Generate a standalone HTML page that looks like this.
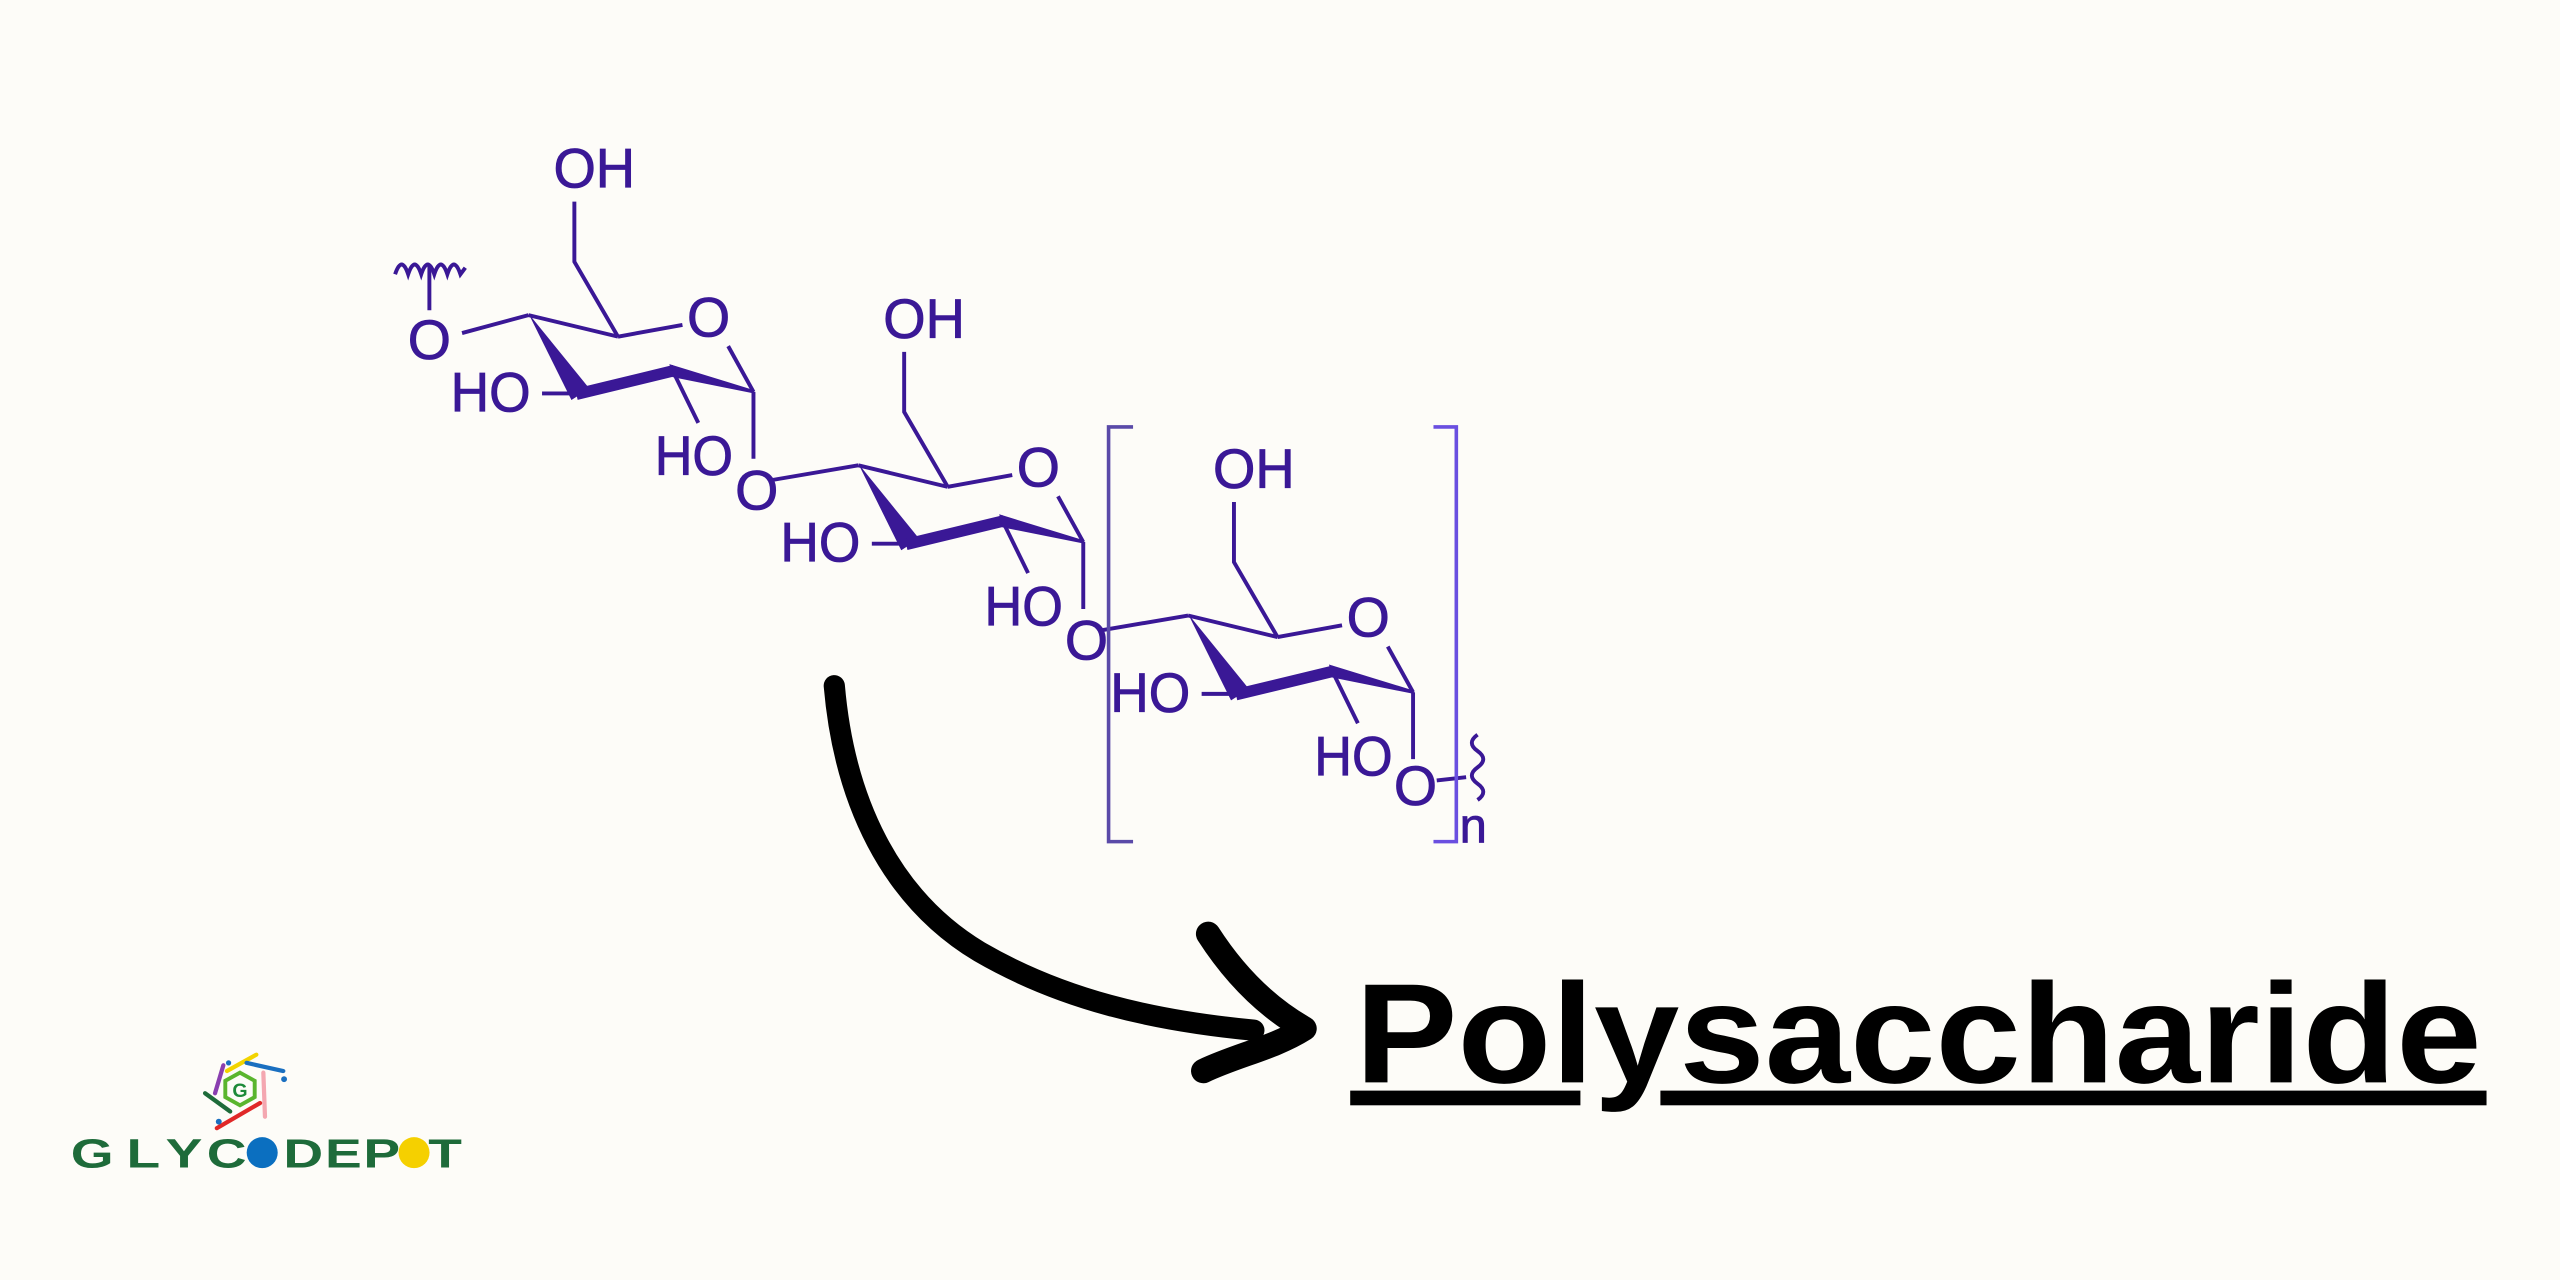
<!DOCTYPE html>
<html><head><meta charset="utf-8"><style>
html,body{margin:0;padding:0;background:#fdfcf8;}
svg{display:block;}
</style></head><body>
<svg width="2560" height="1280" viewBox="0 0 1568 784" xmlns="http://www.w3.org/2000/svg">
<rect width="1568" height="784" fill="#fdfcf8"/>
<defs>
<g id="unit" stroke="#3a1896" fill="none" stroke-width="2.4">
  <text x="339" y="115" textLength="50" lengthAdjust="spacingAndGlyphs" font-family="Liberation Sans, sans-serif" font-size="34" fill="#3a1896" stroke="#3a1896" stroke-width="0.5">OH</text>
  <polyline points="351.8,123.5 351.8,160.3 378.5,206.2"/>
  <line x1="323.7" y1="193" x2="378.5" y2="206.2"/>
  <line x1="378.5" y1="206.2" x2="418" y2="199"/>
  <text x="434" y="206" text-anchor="middle" font-family="Liberation Sans, sans-serif" font-size="34" fill="#3a1896" stroke="#3a1896" stroke-width="0.5">O</text>
  <line x1="461.5" y1="240" x2="446" y2="212"/>
  <polygon points="323.7,192 361,238 350,245" fill="#3a1896" stroke="none"/>
  <line x1="353" y1="241.5" x2="413" y2="227" stroke-width="7"/>
  <polygon points="410,223 462,239 462,241 412,231" fill="#3a1896" stroke="none"/>
  <text x="276" y="252" textLength="49" lengthAdjust="spacingAndGlyphs" font-family="Liberation Sans, sans-serif" font-size="34" fill="#3a1896" stroke="#3a1896" stroke-width="0.5">HO</text>
  <line x1="332" y1="241" x2="352" y2="241"/>
  <line x1="412" y1="227" x2="427.7" y2="259"/>
  <text x="401" y="291" textLength="48" lengthAdjust="spacingAndGlyphs" font-family="Liberation Sans, sans-serif" font-size="34" fill="#3a1896" stroke="#3a1896" stroke-width="0.5">HO</text>
  <line x1="461.5" y1="240" x2="461.5" y2="281"/>
</g>
</defs>
<g font-family="Liberation Sans, sans-serif" font-size="34" fill="#3a1896" stroke="#3a1896" stroke-width="0.5">
<use href="#unit"/>
<use href="#unit" transform="translate(202,92)"/>
<use href="#unit" transform="translate(404,184)"/>
<text x="263" y="220" text-anchor="middle">O</text>
<text x="463.5" y="312" text-anchor="middle">O</text>
<text x="665.5" y="404" text-anchor="middle">O</text>
<text x="867" y="493" text-anchor="middle">O</text>
<text x="894" y="516" font-size="30">n</text>
</g>
<g stroke="#3a1896" stroke-width="2.4" fill="none">
<line x1="283" y1="204" x2="323.7" y2="193"/>
<line x1="263" y1="190" x2="263" y2="162"/>
<path d="M242,168 q4,-12 8,0 q4,-12 8,0 q4,-12 8,0 q4,-12 8,0 q4,-12 8,0 l3,-4"/>
<line x1="473" y1="294" x2="525.7" y2="285"/>
<line x1="675" y1="386" x2="727.7" y2="377"/>
<line x1="880" y1="478" x2="898" y2="476"/>
<path d="M905,450 q-7,5 0,10 q7,5 0,10 q-7,5 0,10 q7,5 0,10"/>
</g>
<polyline points="694,261.5 679,261.5 679,515.5 694,515.5" fill="none" stroke="#5a4aa8" stroke-width="2.2"/>
<polyline points="878,261.5 892,261.5 892,515.5 878,515.5" fill="none" stroke="#6a4fe0" stroke-width="2.2"/>
<!-- arrow -->
<g stroke="#000" fill="none" stroke-linecap="round" stroke-linejoin="round">
<path d="M511,420 C517,490 545,550 600,583 C650,612 705,625 768,631" stroke-width="13"/>
<path d="M740,572 C758,600 778,618 799,630 C780,642 758,646 737,656" stroke-width="15"/>
</g>
<!-- title -->
<text x="830" y="663" font-family="Liberation Sans, sans-serif" font-weight="bold" font-size="87" textLength="690" lengthAdjust="spacingAndGlyphs" fill="#000">Polysaccharide</text>
<rect x="827" y="668" width="141" height="9" fill="#000"/>
<rect x="1017" y="668" width="506" height="9" fill="#000"/>
<!-- logo -->
<g stroke-linecap="round" fill="none" stroke-width="2.6">
<line x1="139" y1="656" x2="157" y2="646" stroke="#f2d400"/>
<line x1="151" y1="651" x2="173.5" y2="656" stroke="#1a6fc0"/>
<line x1="136.8" y1="652.5" x2="131.7" y2="669.6" stroke="#8a3fb0"/>
<line x1="161.3" y1="657" x2="162.3" y2="684" stroke="#f4a7b0"/>
<line x1="159.3" y1="675.6" x2="132.8" y2="691" stroke="#e02828"/>
<line x1="125.6" y1="669.6" x2="141" y2="680.8" stroke="#1e6b3a"/>
<polygon points="147,657 156,662 156,672 147,677 138,672 138,662" stroke="#5ab52e" stroke-width="2.4"/>
</g>
<circle cx="174" cy="661" r="1.8" fill="#1a6fc0"/>
<circle cx="134" cy="687" r="1.8" fill="#1a6fc0"/>
<circle cx="140" cy="651" r="1.6" fill="#1a6fc0"/>
<text x="147" y="672" text-anchor="middle" font-family="Liberation Sans, sans-serif" font-weight="bold" font-size="12" fill="#1e8a3a">G</text>
<g font-family="Liberation Sans, sans-serif" font-weight="bold" font-size="25" fill="#1e6b3a" text-anchor="middle" transform="translate(0,715)">
<text x="56.5" y="0" transform="translate(56.5,0) scale(1.35,1) translate(-56.5,0)">G</text>
<text x="87.8" y="0" transform="translate(87.8,0) scale(1.35,1) translate(-87.8,0)">L</text>
<text x="112.7" y="0" transform="translate(112.7,0) scale(1.35,1) translate(-112.7,0)">Y</text>
<text x="138.8" y="0" transform="translate(138.8,0) scale(1.35,1) translate(-138.8,0)">C</text>
<text x="185.8" y="0" transform="translate(185.8,0) scale(1.35,1) translate(-185.8,0)">D</text>
<text x="210.3" y="0" transform="translate(210.3,0) scale(1.35,1) translate(-210.3,0)">E</text>
<text x="233.8" y="0" transform="translate(233.8,0) scale(1.35,1) translate(-233.8,0)">P</text>
<text x="272.6" y="0" transform="translate(272.6,0) scale(1.35,1) translate(-272.6,0)">T</text>
</g>
<circle cx="160.6" cy="706" r="9.5" fill="#0b6fc0"/>
<circle cx="253.6" cy="706" r="9.5" fill="#f5d000"/>
</svg>
</body></html>
